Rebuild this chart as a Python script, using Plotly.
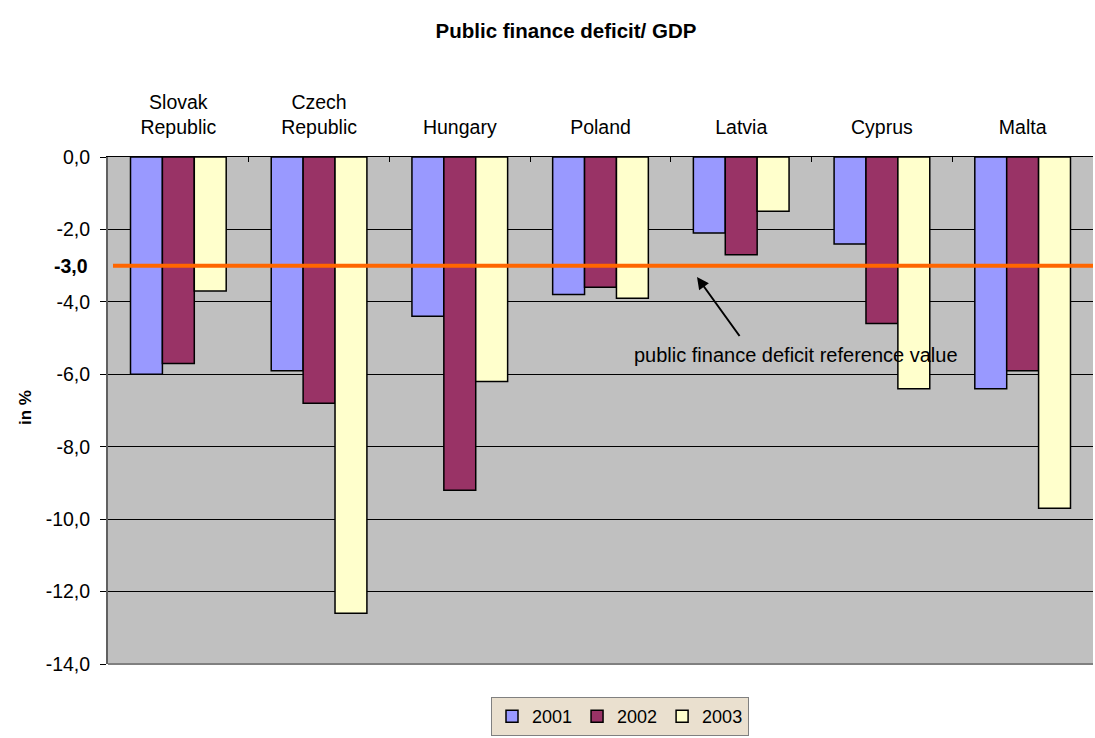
import plotly.graph_objects as go

countries = ["Slovak<br>Republic", "Czech<br>Republic", "Hungary", "Poland", "Latvia", "Cyprus", "Malta"]
v2001 = [-6.0, -5.9, -4.4, -3.8, -2.1, -2.4, -6.4]
v2002 = [-5.7, -6.8, -9.2, -3.6, -2.7, -4.6, -5.9]
v2003 = [-3.7, -12.6, -6.2, -3.9, -1.5, -6.4, -9.7]
ytick_vals = [0, -2, -4, -6, -8, -10, -12, -14]
ytick_text = ["0,0", "-2,0", "-4,0", "-6,0", "-8,0", "-10,0", "-12,0", "-14,0"]
ref_value = -3.0

W, H = 1095, 738
L, R, T, B = 108, 2, 157, 74
pw = W - L - R
ph = H - T - B
FS = 19.5

fig = go.Figure()
for name, vals, col in [("2001", v2001, "#9999FF"), ("2002", v2002, "#993366"), ("2003", v2003, "#FFFFCC")]:
    fig.add_trace(go.Bar(x=countries, y=vals, name=name,
                         marker=dict(color=col, line=dict(color="black", width=1.5))))

fig.add_shape(type="line", xref="paper", yref="y", x0=5 / pw, x1=1, y0=ref_value, y1=ref_value,
              line=dict(color="#FF6600", width=4), layer="above")
# bottom border of plot area
fig.add_shape(type="line", xref="paper", yref="paper", x0=0, x1=1, y0=0, y1=0,
              line=dict(color="#808080", width=2), layer="above")

fig.add_annotation(xref="paper", yref="y", x=(90 - L) / pw, y=ref_value, text="<b>-3,0</b>",
                   showarrow=False, xanchor="right", font=dict(size=FS, color="black"))

# arrow
fig.add_annotation(xref="paper", yref="paper", x=(697 - L) / pw, y=1 - (277 - T) / ph,
                   text=" ", showarrow=True, arrowhead=2, arrowsize=1.2, arrowwidth=2,
                   arrowcolor="black", ax=44, ay=61, font=dict(size=1))
fig.add_annotation(xref="paper", yref="paper", x=(796 - L) / pw, y=1 - (355 - T) / ph,
                   xanchor="center", yanchor="middle",
                   text="public finance deficit reference value", showarrow=False,
                   font=dict(size=20, color="black"))

# y axis title
fig.add_annotation(xref="paper", yref="paper", x=(25 - L) / pw, y=1 - (408 - T) / ph,
                   xanchor="center", yanchor="middle",
                   text="<b>in %</b>", textangle=-90, showarrow=False,
                   font=dict(size=17, color="black"))

fig.update_layout(
    width=W, height=H,
    margin=dict(l=L, r=R, t=T, b=B, autoexpand=False),
    paper_bgcolor="white",
    plot_bgcolor="#C0C0C0",
    font=dict(family="Liberation Sans, Arial, sans-serif", size=FS, color="black"),
    title=dict(text="<b>Public finance deficit/ GDP</b>", x=566 / W, xanchor="center",
               y=1 - 31 / H, yanchor="middle", font=dict(size=20.5)),
    barmode="group", bargap=0.32, bargroupgap=0,
    showlegend=True,
    legend=dict(orientation="h", xref="container", yref="container",
                x=620 / W, xanchor="center", y=1 - 736 / H, yanchor="bottom",
                bgcolor="#EAE0CF", bordercolor="#808080", borderwidth=1,
                font=dict(size=18), itemwidth=30, traceorder="normal", tracegroupgap=0),
    xaxis=dict(side="top", showline=True, linecolor="black", linewidth=1,
               ticks="inside", tickson="boundaries", ticklen=5, tickcolor="black",
               showgrid=False, ticklabelstandoff=14),
    yaxis=dict(range=[-14, 0], tickvals=ytick_vals, ticktext=ytick_text,
               showgrid=True, gridcolor="black", gridwidth=1, zeroline=False,
               showline=True, linecolor="#606060", linewidth=2,
               ticks="outside", ticklen=6, tickcolor="black", ticklabelstandoff=6),
)

fig.write_html("out.html")
